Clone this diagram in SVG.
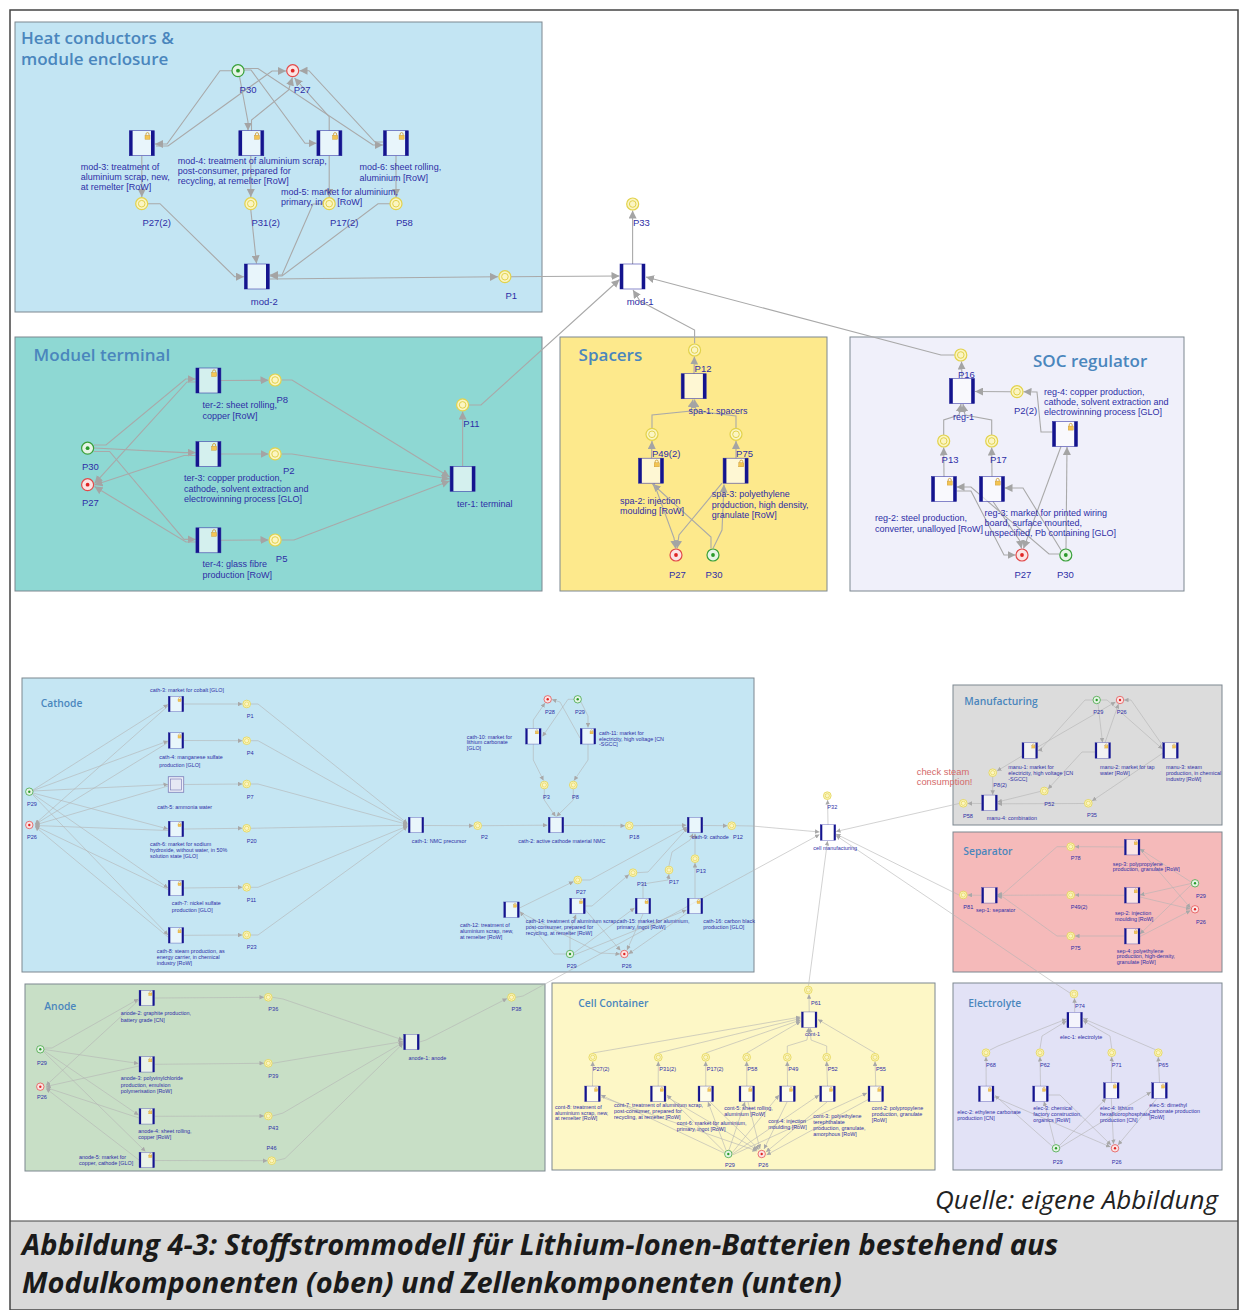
<svg xmlns="http://www.w3.org/2000/svg" width="1240" height="1310" viewBox="0 0 1240 1310">
<style>
.sec{stroke:#7d8790;stroke-width:1}
.c{fill:none;stroke:#a9a9a9;stroke-width:1.1;marker-end:url(#ah)}
.d{fill:none;stroke:#b4b4b4;stroke-width:.6;marker-end:url(#as)}
.t{font-family:"Open Sans","Liberation Sans",sans-serif;font-weight:600;font-size:17px;fill:#4a86bd}
.tb{font-family:"Open Sans","Liberation Sans",sans-serif;font-weight:600;font-size:10.3px;fill:#4a86bd}
.l{font-family:"Liberation Sans",Arial,sans-serif;font-size:9px;fill:#2e2ea6}
.p{font-family:"Liberation Sans",Arial,sans-serif;font-size:9.5px;fill:#2e2ea6}
.s{font-family:"Liberation Sans",Arial,sans-serif;font-size:5.4px;fill:#2e2ea6}
.sp{font-family:"Liberation Sans",Arial,sans-serif;font-size:5.6px;fill:#2e2ea6}
.warn{font-family:"Liberation Sans",Arial,sans-serif;font-size:9.4px;fill:#d46a6a}
.cap{font-family:"Open Sans","Liberation Sans",sans-serif;font-weight:700;font-style:italic;font-size:29px;fill:#1a1a1a}
.src{font-family:"Open Sans","Liberation Sans",sans-serif;font-style:italic;font-size:26px;fill:#222}
</style>
<defs>
<marker id="ah" viewBox="0 0 10 10" refX="10" refY="5" markerWidth="8" markerHeight="8" markerUnits="userSpaceOnUse" orient="auto"><path d="M0,0 L10,5 L0,10 z" fill="#a4a4a4"/></marker>
<marker id="as" viewBox="0 0 10 10" refX="10" refY="5" markerWidth="4.5" markerHeight="4.5" markerUnits="userSpaceOnUse" orient="auto"><path d="M0,0 L10,5 L0,10 z" fill="#a8a8a8"/></marker>
<!-- process box -->
<g id="bx">
<rect x="-12.5" y="-12.5" width="25" height="25" fill="#ffffff" fill-opacity=".62" stroke="#3a3aa8" stroke-width=".6"/>
<rect x="-12.5" y="-12.5" width="3.3" height="25" fill="#14148e"/>
<rect x="9.2" y="-12.5" width="3.3" height="25" fill="#14148e"/>
</g>
<!-- process box with lock -->
<g id="bxl">
<use href="#bx"/>
<g transform="translate(3.2,-10.5)">
<path d="M1,2.6 v-1.2 a1.5,1.5 0 0 1 3,0 v1.2" fill="none" stroke="#c9962a" stroke-width=".8"/>
<rect x="0" y="2.6" width="5" height="4" fill="#f3c453" stroke="#c9962a" stroke-width=".4"/>
</g>
</g>
<!-- place -->
<g id="pl"><circle r="6" fill="#fbf5c2" stroke="#e2d24c" stroke-width="1.2"/><circle r="3.3" fill="none" stroke="#e2d24c" stroke-width="1"/></g>
<g id="so"><circle r="6" fill="#e6f4e6" stroke="#3aa03a" stroke-width="1.2"/><circle r="1.9" fill="#2a9a2a"/></g>
<g id="si"><circle r="6" fill="#fbe4e4" stroke="#e24a4a" stroke-width="1.2"/><circle r="1.9" fill="#e02525"/></g>
<g id="sbx" transform="scale(.62)"><use href="#bx"/></g>
<g id="sbxl" transform="scale(.62)"><use href="#bxl"/></g>
<g id="spl" transform="scale(.64)"><use href="#pl"/></g>
<g id="sso" transform="scale(.62)"><use href="#so"/></g>
<g id="ssi" transform="scale(.62)"><use href="#si"/></g>
<g id="sbxd">
<rect x="-7.75" y="-7.75" width="15.5" height="15.5" fill="#eceef8" stroke="#6e6eb0" stroke-width=".7"/>
<rect x="-5.5" y="-5.5" width="11" height="11" fill="#e6e8f4" stroke="#6e6eb0" stroke-width=".6"/>
</g>
</defs>

<rect width="1240" height="1310" fill="#ffffff"/>

<!-- section backgrounds -->
<g id="sections">
<rect class="sec" x="15" y="22" width="527" height="290" fill="#c3e5f3"/>
<rect class="sec" x="15" y="337" width="527" height="254" fill="#8ed8d3"/>
<rect class="sec" x="560" y="337" width="267" height="254" fill="#fde98c"/>
<rect class="sec" x="850" y="337" width="334" height="254" fill="#f0f0fa"/>
<rect class="sec" x="22" y="678" width="732" height="294" fill="#c5e6f3"/>
<rect class="sec" x="953" y="685" width="269" height="140" fill="#dcdcdc"/>
<rect class="sec" x="953" y="832" width="269" height="140" fill="#f5baba"/>
<rect class="sec" x="25" y="984" width="520" height="187" fill="#c8dfc6"/>
<rect class="sec" x="552" y="983" width="383" height="187" fill="#fdf7c6"/>
<rect class="sec" x="953" y="983" width="269" height="187" fill="#e2e2f6"/>
<text class="t" x="21" y="44">Heat conductors &amp;</text>
<text class="t" x="21" y="65">module enclosure</text>
<text class="t" x="33.6" y="361">Moduel terminal</text>
<text class="t" x="578.6" y="361">Spacers</text>
<text class="t" x="1033" y="367">SOC regulator</text>
<text class="tb" x="40.7" y="707">Cathode</text>
<text class="tb" x="964.3" y="704.5">Manufacturing</text>
<text class="tb" x="963.3" y="854.5">Separator</text>
<text class="tb" x="44.3" y="1009.5">Anode</text>
<text class="tb" x="578.3" y="1007">Cell Container</text>
<text class="tb" x="968.3" y="1007">Electrolyte</text>
</g>

<!-- connectors -->
<g id="connectors">
<!-- heat conductors & module enclosure -->
<path class="c" d="M232,70.7 L220,70.7 L167,144 L155,144"/>
<path class="c" d="M156,146 L168,146 L272,71 L286,71"/>
<path class="c" d="M239.5,76.5 L248,122 L248,130.5"/>
<path class="c" d="M251.5,130.7 L251.5,120 L288.6,90 L292.4,77.5"/>
<path class="c" d="M244,70 L251,70 L305,143.3 L316.5,143.3"/>
<path class="c" d="M329.2,130.7 L329.2,116.7 L294.5,78"/>
<path class="c" d="M244,68.5 L258,68.5 L373,145 L383,145"/>
<path class="c" d="M383,142 L375,142 L309,70.7 L299.5,70.7"/>
<path class="c" d="M141.8,155.7 L141.8,197"/>
<path class="c" d="M250.8,155.7 L250.8,197"/>
<path class="c" d="M329.2,155.7 L329.2,197"/>
<path class="c" d="M396,155.7 L396,197"/>
<path class="c" d="M148,203.7 L160,203.7 L234.6,276.7 L244,276.7"/>
<path class="c" d="M250.8,210 L256.5,263.5"/>
<path class="c" d="M323,204 L313,204 L282,275 L270,275"/>
<path class="c" d="M390,203.7 L378,203.7 L282,276 L270,276"/>
<path class="c" d="M269.3,279 L498,276.8"/>
<path class="c" d="M511,276.7 L540,276.5 L619.5,276"/>
<path class="c" d="M469,405 L481,405 L619.5,279.5"/>
<path class="c" d="M632.6,264 L632.6,210.5"/>
<path class="c" d="M694.6,343.5 L694.6,330 L640,301 L633,290"/>
<path class="c" d="M954.5,355 L941,355 L646,277"/>
<!-- module terminal -->
<path class="c" d="M94,445 L106,445 L185.6,379 L195.7,379"/>
<path class="c" d="M94,448 L184,452.6 L195.7,452.6"/>
<path class="c" d="M94,451.5 L109.6,451.5 L184,539.4 L195.7,539.4"/>
<path class="c" d="M195.7,382 L187,382 L94.5,483.6"/>
<path class="c" d="M195.7,455.5 L184,455.5 L94.5,485"/>
<path class="c" d="M195.7,542 L186,542 L94.5,486.5"/>
<path class="c" d="M220.9,380.5 L268.5,380.3"/>
<path class="c" d="M220.9,454 L268.5,454"/>
<path class="c" d="M220.9,540.2 L268.5,540"/>
<path class="c" d="M281.5,380 L292,380 L449.6,477"/>
<path class="c" d="M281.5,454 L292,454 L449.6,479"/>
<path class="c" d="M281.5,540 L294,540 L449.6,481"/>
<path class="c" d="M462.6,466.3 L462.6,411.5"/>
<!-- spacers -->
<path class="c" d="M694,373.7 L694.4,356.5"/>
<path class="c" d="M652,428 L652,415 L691,411 L693,399.5"/>
<path class="c" d="M736,428 L736,416 L696,411 L694.5,399.5"/>
<path class="c" d="M651.5,458.2 L652,441"/>
<path class="c" d="M736,458.2 L736,441"/>
<path class="c" d="M711,548.5 L711,537 L652.5,484"/>
<path class="c" d="M654,483.2 L674,538 L675.5,548.5"/>
<path class="c" d="M713,548.5 L722,530 L724,484.5"/>
<path class="c" d="M722,483.2 L679,535 L677,548.5"/>
<!-- SOC regulator -->
<path class="c" d="M962,378.5 L961.5,361.5"/>
<path class="c" d="M1011,391.7 L975,391.5"/>
<path class="c" d="M1052.5,432 L1041,432 L1037,392 L1023.5,391.7"/>
<path class="c" d="M943.7,435 L943.7,420 L959,415 L961,404"/>
<path class="c" d="M991.7,435 L991.7,420 L965,415 L963,404"/>
<path class="c" d="M944,476.5 L943.7,447.5"/>
<path class="c" d="M992,476.5 L991.7,447.5"/>
<path class="c" d="M1059.5,554 L1049,554 L971,487 L956.5,487"/>
<path class="c" d="M956.5,491 L971,491 L1004,555 L1015.5,555"/>
<path class="c" d="M1061,550 L1023,488 L1004.5,488"/>
<path class="c" d="M993,501.5 L1020,541 L1021.5,548.5"/>
<path class="c" d="M1066,549 L1067,447"/>
<path class="c" d="M1061,446.5 L1023.5,548.5"/>

<!-- cathode -->
<path class="d" d="M33,790 L168,704.5"/>
<path class="d" d="M33,790.5 L168,741"/>
<path class="d" d="M33,791 L168,784.5"/>
<path class="d" d="M33,793 L168,829"/>
<path class="d" d="M33,794 L168,888"/>
<path class="d" d="M33,795 L168,935"/>
<path class="d" d="M168,706 L35,824"/>
<path class="d" d="M168,742.5 L35,824.5"/>
<path class="d" d="M168,786 L35,825"/>
<path class="d" d="M168,830.5 L35,825.5"/>
<path class="d" d="M168,889.5 L35,826"/>
<path class="d" d="M168,937 L35,826.5"/>
<path class="d" d="M184,704 L242.5,704"/>
<path class="d" d="M184,740.5 L242.5,740.7"/>
<path class="d" d="M184,784.5 L242.5,784"/>
<path class="d" d="M184,829 L242.5,828.3"/>
<path class="d" d="M184,888 L242.5,887.3"/>
<path class="d" d="M184,935.3 L242.5,935"/>
<path class="d" d="M251,704 L258,704 L407.5,823.5"/>
<path class="d" d="M251,740.7 L258,740.7 L407.5,824"/>
<path class="d" d="M251,784 L258,784 L407.5,824.5"/>
<path class="d" d="M251,828.3 L407.5,825.2"/>
<path class="d" d="M251,887.3 L258,887.3 L407.5,826"/>
<path class="d" d="M251,935 L258,935 L407.5,826.5"/>
<path class="d" d="M424,825.5 L473.5,825.7"/>
<path class="d" d="M482,825.7 L547.5,825.2"/>
<path class="d" d="M564,825.5 L625,825.7"/>
<path class="d" d="M633.5,825.7 L686.5,825.2"/>
<path class="d" d="M703,825.5 L727.5,825.7"/>
<path class="d" d="M736,825.7 L752,826 L819.5,832"/>
<path class="d" d="M533.3,728.3 L533.3,720 L545,703"/>
<path class="d" d="M574,699.3 L568,699.3 L542.5,736.5"/>
<path class="d" d="M580,738 L560,702 L552,699.5"/>
<path class="d" d="M581,702 L588,716 L588,727.5"/>
<path class="d" d="M533.3,744.3 L533.3,760 L543.5,780.5"/>
<path class="d" d="M588,744.3 L588,760 L574,780.5"/>
<path class="d" d="M544.3,789 L544.3,800 L555.5,816.5"/>
<path class="d" d="M573.3,789 L573.3,800 L556.5,816.5"/>
<path class="d" d="M519.5,908 L573.5,881.5"/>
<path class="d" d="M582,880 L590,880 L687,827"/>
<path class="d" d="M585.5,906 L592,906 L629,874.5"/>
<path class="d" d="M637,872.7 L648,872 L687.5,828"/>
<path class="d" d="M643,898 L643,884 L668,880 L669,874.3"/>
<path class="d" d="M669,865.7 L672,852 L690,840 L693,833.5"/>
<path class="d" d="M695,898 L695,863"/>
<path class="d" d="M695,854.5 L695,833.5"/>
<path class="d" d="M566,954 L554,954 L520,911.5"/>
<path class="d" d="M570,950 L570,930 L576,914.5"/>
<path class="d" d="M574,953 L634.5,908"/>
<path class="d" d="M574,955 L686.5,910"/>
<path class="d" d="M519.5,912 L600,953 L620,954"/>
<path class="d" d="M585.5,910 L620.5,950.5"/>
<path class="d" d="M643,914 L627,950"/>
<path class="d" d="M687,913 L628.5,954"/>
<!-- cell manufacturing -->
<path class="d" d="M828,824.7 L827.6,800"/>
<!-- manufacturing -->
<path class="d" d="M1092.7,700 L1085,700 L1040,750 L1037.8,750.5"/>
<path class="d" d="M1037.8,747 L1115.5,702"/>
<path class="d" d="M1098,704 L1102.5,742.5"/>
<path class="d" d="M1105,742.7 L1118.5,704"/>
<path class="d" d="M1100.7,700 L1107,700 L1162.5,749"/>
<path class="d" d="M1163,746 L1131,700 L1124,700"/>
<path class="d" d="M1022,756 L997,771"/>
<path class="d" d="M992.7,776.7 L992.7,794.8"/>
<path class="d" d="M1095,752 L1082,752 L1048,789"/>
<path class="d" d="M1040,791.5 L997.5,802"/>
<path class="d" d="M1163,753 L1092,801"/>
<path class="d" d="M1084,803.5 L997.5,803.8"/>
<path class="d" d="M981.7,803.5 L967.5,803.4"/>
<path class="d" d="M959,803.5 L836,831.5"/>
<!-- separator -->
<path class="d" d="M1191,882 L1140,849"/>
<path class="d" d="M1191,883.5 L1140,895"/>
<path class="d" d="M1191,885 L1140,934"/>
<path class="d" d="M1140,849.5 L1190.5,908"/>
<path class="d" d="M1140,897 L1190.5,909"/>
<path class="d" d="M1140,936.5 L1190.5,910.5"/>
<path class="d" d="M1124.4,847 L1075,846.7"/>
<path class="d" d="M1124.4,895.3 L1075,895"/>
<path class="d" d="M1124.4,936 L1075,936"/>
<path class="d" d="M1066.5,846.7 L1057,846.7 L1003,894 L997.3,894.5"/>
<path class="d" d="M1066.5,895 L997.3,895.3"/>
<path class="d" d="M1066.5,936 L1057,936 L1003,897 L997.3,896.5"/>
<path class="d" d="M981.7,895.3 L967.5,895.1"/>
<path class="d" d="M959,895 L836,834"/>
<path class="d" d="M1070,993 L1050,980 L836,835.5"/>
<!-- anode -->
<path class="d" d="M44.5,1048 L52,1048 L138.5,999"/>
<path class="d" d="M44.5,1049.5 L138.5,1063.5"/>
<path class="d" d="M44.5,1051 L138.5,1115"/>
<path class="d" d="M44,1052 L145.5,1151.5"/>
<path class="d" d="M139,1000 L46,1085.5"/>
<path class="d" d="M139,1066 L46,1086.5"/>
<path class="d" d="M139,1118 L46,1087.5"/>
<path class="d" d="M139,1160 L46,1088.5"/>
<path class="d" d="M155,998 L264,997.3"/>
<path class="d" d="M155,1064.3 L264,1063.3"/>
<path class="d" d="M155,1116.3 L264,1116"/>
<path class="d" d="M155,1160.5 L267.5,1160.7"/>
<path class="d" d="M272.5,997.3 L283,999 L403,1040"/>
<path class="d" d="M272.5,1063.3 L403,1041.5"/>
<path class="d" d="M272.5,1116 L283,1113 L403,1042.5"/>
<path class="d" d="M276,1160.7 L285,1158.5 L403,1043.5"/>
<path class="d" d="M419.5,1042 L426,1040 L507,998.5"/>
<path class="d" d="M515.8,997.3 L523,996 L819.5,834.5"/>
<!-- cell container -->
<path class="d" d="M592.5,1086 L592.7,1061.5"/>
<path class="d" d="M658.2,1086 L658.3,1061.5"/>
<path class="d" d="M705.8,1086 L705.7,1061.5"/>
<path class="d" d="M746.8,1086 L746.7,1061.5"/>
<path class="d" d="M787.5,1086 L787.3,1061.5"/>
<path class="d" d="M827.5,1086 L826.7,1061.5"/>
<path class="d" d="M875.8,1086 L875,1061.5"/>
<path class="d" d="M592.7,1053 L800.5,1017"/>
<path class="d" d="M658.3,1053 L800.5,1018.5"/>
<path class="d" d="M705.7,1053 L800.5,1020"/>
<path class="d" d="M746.7,1053 L800.5,1021.5"/>
<path class="d" d="M787.3,1053 L787.3,1046 L807,1040 L808.5,1028"/>
<path class="d" d="M826.7,1053 L826.7,1046 L811,1040 L810,1028"/>
<path class="d" d="M875,1053 L818,1019.5"/>
<path class="d" d="M809.2,1011.9 L809,994.3"/>
<path class="d" d="M808.5,985.7 L827.5,841"/>
<path class="d" d="M724,1153 L601,1095"/>
<path class="d" d="M724.5,1152 L667,1095"/>
<path class="d" d="M726,1150 L708,1102"/>
<path class="d" d="M729,1150 L745,1102"/>
<path class="d" d="M732,1153 L779,1095"/>
<path class="d" d="M732.5,1154 L819,1095"/>
<path class="d" d="M732.5,1155 L867,1093"/>
<path class="d" d="M601,1097 L757,1151"/>
<path class="d" d="M667,1097 L757.5,1150"/>
<path class="d" d="M710,1102 L759,1149.5"/>
<path class="d" d="M748,1102 L760,1149"/>
<path class="d" d="M787,1102 L764,1149"/>
<path class="d" d="M827,1102 L766,1152"/>
<path class="d" d="M869,1099 L766.5,1155"/>
<!-- electrolyte -->
<path class="d" d="M986.2,1086 L986,1057"/>
<path class="d" d="M1040.5,1086 L1040,1057"/>
<path class="d" d="M1111.3,1082.7 L1111.7,1057"/>
<path class="d" d="M1159.5,1082.7 L1158.3,1057"/>
<path class="d" d="M990,1050 L998,1046 L1066.5,1019"/>
<path class="d" d="M1040,1048.5 L1042,1036 L1066.5,1021"/>
<path class="d" d="M1111.7,1048.5 L1110,1036 L1083,1020.5"/>
<path class="d" d="M1155,1049.5 L1083,1018.5"/>
<path class="d" d="M1074.7,1012.2 L1074.5,998.3"/>
<path class="d" d="M1052.5,1146.5 L995,1095.5"/>
<path class="d" d="M1055,1144.5 L1044,1101.5"/>
<path class="d" d="M1059,1146 L1106,1098.5"/>
<path class="d" d="M1060,1147.5 L1151,1092"/>
<path class="d" d="M994,1097 L1110.5,1147"/>
<path class="d" d="M1048.5,1095 L1060,1095 L1111,1145"/>
<path class="d" d="M1111.3,1098.3 L1113.5,1144"/>
<path class="d" d="M1157,1098.3 L1118,1145"/>
</g>

<!-- ===== module nodes ===== -->
<g id="P30-heat"><use href="#so" x="238" y="70.7"/><text class="p" x="239.6" y="92.5">P30</text></g>
<g id="P27-heat"><use href="#si" x="292.7" y="70.7"/><text class="p" x="293.7" y="92.5">P27</text></g>
<g id="mod-3"><use href="#bxl" x="141.8" y="143.2"/><text class="l" x="80.8" y="170"><tspan x="80.8">mod-3: treatment of</tspan><tspan x="80.8" dy="10.3">aluminium scrap, new,</tspan><tspan x="80.8" dy="10">at remelter [RoW]</tspan></text></g>
<g id="mod-4"><use href="#bxl" x="251.3" y="143.2"/><text class="l" x="177.8" y="164"><tspan x="177.8">mod-4: treatment of aluminium scrap,</tspan><tspan x="177.8" dy="10.4">post-consumer, prepared for</tspan><tspan x="177.8" dy="10">recycling, at remelter [RoW]</tspan></text></g>
<g id="mod-5"><use href="#bxl" x="329.4" y="143.2"/><text class="l" x="280.9" y="194.5"><tspan x="280.9">mod-5: market for aluminium,</tspan><tspan x="280.9" dy="10.6">primary, ingot [RoW]</tspan></text></g>
<g id="mod-6"><use href="#bxl" x="395.9" y="143.2"/><text class="l" x="359.6" y="170"><tspan x="359.6">mod-6: sheet rolling,</tspan><tspan x="359.6" dy="10.6">aluminium [RoW]</tspan></text></g>
<g id="P27-2-heat"><use href="#pl" x="141.7" y="203.7"/><text class="p" x="142.4" y="226">P27(2)</text></g>
<g id="P31-2-heat"><use href="#pl" x="250.8" y="203.7"/><text class="p" x="251.5" y="226">P31(2)</text></g>
<g id="P17-2-heat"><use href="#pl" x="329.2" y="203.7"/><text class="p" x="329.9" y="226">P17(2)</text></g>
<g id="P58-heat"><use href="#pl" x="396" y="203.7"/><text class="p" x="396" y="226">P58</text></g>
<g id="mod-2"><use href="#bx" x="256.8" y="276.5"/><text class="p" x="250.8" y="305">mod-2</text></g>
<g id="P1-heat"><use href="#pl" x="504.9" y="276.7"/><text class="p" x="505.5" y="299">P1</text></g>
<g id="mod-1"><use href="#bx" x="632.5" y="276.5"/><text class="p" x="626.7" y="305">mod-1</text></g>
<g id="P33"><use href="#pl" x="632.7" y="204"/><text class="p" x="633" y="226">P33</text></g>

<g id="ter-2"><use href="#bxl" x="208.4" y="380.5"/><text class="l" x="202.5" y="408"><tspan x="202.5">ter-2: sheet rolling,</tspan><tspan x="202.5" dy="11">copper [RoW]</tspan></text></g>
<g id="ter-3"><use href="#bxl" x="208.4" y="454.1"/><text class="l" x="184" y="480.6"><tspan x="184">ter-3: copper production,</tspan><tspan x="184" dy="11">cathode, solvent extraction and</tspan><tspan x="184" dy="10.8">electrowinning process [GLO]</tspan></text></g>
<g id="ter-4"><use href="#bxl" x="208.4" y="540.3"/><text class="l" x="202.5" y="567"><tspan x="202.5">ter-4: glass fibre</tspan><tspan x="202.5" dy="11">production [RoW]</tspan></text></g>
<g id="ter-1"><use href="#bx" x="462.6" y="478.8"/><text class="l" x="456.9" y="507">ter-1: terminal</text></g>
<g id="P8-ter"><use href="#pl" x="275.1" y="380"/><text class="p" x="276.5" y="403">P8</text></g>
<g id="P2-ter"><use href="#pl" x="275.1" y="453.9"/><text class="p" x="283" y="474">P2</text></g>
<g id="P5-ter"><use href="#pl" x="275.1" y="540"/><text class="p" x="275.8" y="562">P5</text></g>
<g id="P11-ter"><use href="#pl" x="462.6" y="404.9"/><text class="p" x="463.3" y="427">P11</text></g>
<g id="P30-ter"><use href="#so" x="87.6" y="448.2"/><text class="p" x="81.9" y="470">P30</text></g>
<g id="P27-ter"><use href="#si" x="87.6" y="484.7"/><text class="p" x="81.9" y="506">P27</text></g>

<g id="P12-spa"><use href="#pl" x="694.6" y="350"/><text class="p" x="694.6" y="371.5">P12</text></g>
<g id="spa-1"><use href="#bx" x="693.7" y="386.2"/><text class="l" x="688.5" y="414">spa-1: spacers</text></g>
<g id="P49-2-spa"><use href="#pl" x="652" y="434.3"/><text class="p" x="651.9" y="456.5">P49(2)</text></g>
<g id="P75-spa"><use href="#pl" x="736" y="434.3"/><text class="p" x="736.1" y="456.5">P75</text></g>
<g id="spa-2"><use href="#bxl" x="651" y="470.7"/><text class="l" x="620.1" y="503.7"><tspan x="620.1">spa-2: injection</tspan><tspan x="620.1" dy="10.3">moulding [RoW]</tspan></text></g>
<g id="spa-3"><use href="#bxl" x="735.6" y="470.7"/><text class="l" x="711.7" y="497.3"><tspan x="711.7">spa-3: polyethylene</tspan><tspan x="711.7" dy="10.7">production, high density,</tspan><tspan x="711.7" dy="10">granulate [RoW]</tspan></text></g>
<g id="P27-spa"><use href="#si" x="676" y="555"/><text class="p" x="669" y="577.5">P27</text></g>
<g id="P30-spa"><use href="#so" x="713" y="555"/><text class="p" x="705.6" y="577.5">P30</text></g>

<g id="P16"><use href="#pl" x="960.8" y="355"/><text class="p" x="958" y="377.5">P16</text></g>
<g id="reg-1"><use href="#bx" x="962" y="391"/><text class="l" x="953" y="419.7">reg-1</text></g>
<g id="P2-2-reg"><use href="#pl" x="1017" y="391.7"/><text class="p" x="1014" y="414">P2(2)</text></g>
<g id="reg-4"><use href="#bxl" x="1065" y="434"/><text class="l" x="1044" y="394.7"><tspan x="1044">reg-4: copper production,</tspan><tspan x="1044" dy="10">cathode, solvent extraction and</tspan><tspan x="1044" dy="10">electrowinning process [GLO]</tspan></text></g>
<g id="P13-reg"><use href="#pl" x="943.7" y="441"/><text class="p" x="941.6" y="462.5">P13</text></g>
<g id="P17-reg"><use href="#pl" x="991.7" y="441"/><text class="p" x="990" y="462.5">P17</text></g>
<g id="reg-2"><use href="#bxl" x="944" y="489"/><text class="l" x="875" y="521.3"><tspan x="875">reg-2: steel production,</tspan><tspan x="875" dy="11">converter, unalloyed [RoW]</tspan></text></g>
<g id="reg-3"><use href="#bxl" x="992" y="489"/><text class="l" x="984.5" y="515.7"><tspan x="984.5">reg-3: market for printed wiring</tspan><tspan x="984.5" dy="10">board, surface mounted,</tspan><tspan x="984.5" dy="10">unspecified, Pb containing [GLO]</tspan></text></g>
<g id="P27-reg"><use href="#si" x="1022" y="555"/><text class="p" x="1014.5" y="577.5">P27</text></g>
<g id="P30-reg"><use href="#so" x="1065.8" y="555"/><text class="p" x="1057" y="577.5">P30</text></g>

<!-- ===== cell nodes ===== -->
<g id="P29-cath"><use href="#sso" x="29.3" y="791.7"/><text class="sp" x="27" y="806">P29</text></g>
<g id="P26-cath"><use href="#ssi" x="29.3" y="825"/><text class="sp" x="27" y="839">P26</text></g>
<g id="cath-3"><use href="#sbxl" x="176" y="704"/><text class="s" x="150" y="692">cath-3: market for cobalt [GLO]</text></g>
<g id="cath-4"><use href="#sbxl" x="176" y="740.5"/><text class="s" x="159.3" y="759"><tspan x="159.3">cath-4: manganese sulfate</tspan><tspan x="159.3" dy="8">production [GLO]</tspan></text></g>
<g id="cath-5"><use href="#sbxd" x="176" y="784.5"/><text class="s" x="157.3" y="809">cath-5: ammonia water</text></g>
<g id="cath-6"><use href="#sbxl" x="176" y="829"/><text class="s" x="150" y="845.8"><tspan x="150">cath-6: market for sodium</tspan><tspan x="150" dy="6">hydroxide, without water, in 50%</tspan><tspan x="150" dy="6">solution state [GLO]</tspan></text></g>
<g id="cath-7"><use href="#sbxl" x="176" y="888"/><text class="s" x="171.7" y="904.5"><tspan x="171.7">cath-7: nickel sulfate</tspan><tspan x="171.7" dy="7.3">production [GLO]</tspan></text></g>
<g id="cath-8"><use href="#sbxl" x="176" y="935.3"/><text class="s" x="156.7" y="952.5"><tspan x="156.7">cath-8: steam production, as</tspan><tspan x="156.7" dy="6.2">energy carrier, in chemical</tspan><tspan x="156.7" dy="6.3">industry [RoW]</tspan></text></g>
<g id="P1-cath"><use href="#spl" x="246.7" y="704"/><text class="sp" x="246.7" y="718">P1</text></g>
<g id="P4-cath"><use href="#spl" x="246.7" y="740.7"/><text class="sp" x="246.7" y="754.5">P4</text></g>
<g id="P7-cath"><use href="#spl" x="246.7" y="784"/><text class="sp" x="246.7" y="798.5">P7</text></g>
<g id="P20-cath"><use href="#spl" x="246.7" y="828.3"/><text class="sp" x="246.7" y="842.5">P20</text></g>
<g id="P11-cath"><use href="#spl" x="246.7" y="887.3"/><text class="sp" x="246.7" y="901.8">P11</text></g>
<g id="P23-cath"><use href="#spl" x="246.7" y="935"/><text class="sp" x="246.7" y="949">P23</text></g>
<g id="cath-1"><use href="#sbx" x="416" y="825"/><text class="s" x="411.7" y="842.5">cath-1: NMC precursor</text></g>
<g id="P2-cath"><use href="#spl" x="477.7" y="825.7"/><text class="sp" x="481" y="838.5">P2</text></g>
<g id="cath-2"><use href="#sbx" x="556" y="825"/><text class="s" x="518.3" y="842.5">cath-2: active cathode material NMC</text></g>
<g id="P18-cath"><use href="#spl" x="629.3" y="825.7"/><text class="sp" x="629.3" y="838.5">P18</text></g>
<g id="cath-9"><use href="#sbx" x="695" y="825"/><text class="s" x="691.7" y="838.5">cath-9: cathode</text></g>
<g id="P12-cath"><use href="#spl" x="731.7" y="825.7"/><text class="sp" x="733" y="838.5">P12</text></g>
<g id="P28-cath"><use href="#ssi" x="547.7" y="699.3"/><text class="sp" x="545" y="713.5">P28</text></g>
<g id="P29-cath-top"><use href="#sso" x="577.7" y="699.3"/><text class="sp" x="575" y="713.5">P29</text></g>
<g id="cath-10"><use href="#sbxl" x="533.3" y="736.3"/><text class="s" x="466.7" y="738.5"><tspan x="466.7">cath-10: market for</tspan><tspan x="466.7" dy="5.7">lithium carbonate</tspan><tspan x="466.7" dy="5.8">[GLO]</tspan></text></g>
<g id="cath-11"><use href="#sbxl" x="588" y="736.3"/><text class="s" x="599" y="735"><tspan x="599">cath-11: market for</tspan><tspan x="599" dy="5.6">electricity, high voltage [CN</tspan><tspan x="599" dy="5.6">-SGCC]</tspan></text></g>
<g id="P3-cath"><use href="#spl" x="544.3" y="785"/><text class="sp" x="543" y="798.5">P3</text></g>
<g id="P8-cath"><use href="#spl" x="573.3" y="785"/><text class="sp" x="572" y="798.5">P8</text></g>
<g id="P27-cath"><use href="#spl" x="577.7" y="880"/><text class="sp" x="576" y="893.5">P27</text></g>
<g id="P31-cath"><use href="#spl" x="633" y="872.7"/><text class="sp" x="637" y="886">P31</text></g>
<g id="P17-cath"><use href="#spl" x="669" y="870"/><text class="sp" x="669" y="883.5">P17</text></g>
<g id="P13-cath"><use href="#spl" x="695" y="858.7"/><text class="sp" x="696" y="872.5">P13</text></g>
<g id="cath-12"><use href="#sbxl" x="511.5" y="909.7"/><text class="s" x="460" y="926.8"><tspan x="460">cath-12: treatment of</tspan><tspan x="460" dy="5.8">aluminium scrap, new,</tspan><tspan x="460" dy="5.9">at remelter [RoW]</tspan></text></g>
<g id="cath-14"><use href="#sbxl" x="577.5" y="906"/><text class="s" x="525.7" y="922.5"><tspan x="525.7">cath-14: treatment of aluminium scrap,</tspan><tspan x="525.7" dy="6">post-consumer, prepared for</tspan><tspan x="525.7" dy="6">recycling, at remelter [RoW]</tspan></text></g>
<g id="cath-15"><use href="#sbxl" x="643" y="906"/><text class="s" x="616.7" y="922.5"><tspan x="616.7">cath-15: market for aluminium,</tspan><tspan x="616.7" dy="6">primary, ingot [RoW]</tspan></text></g>
<g id="cath-16"><use href="#sbxl" x="695" y="906"/><text class="s" x="703.3" y="922.5"><tspan x="703.3">cath-16: carbon black</tspan><tspan x="703.3" dy="6">production [GLO]</tspan></text></g>
<g id="P29-cath-bottom"><use href="#sso" x="570" y="954"/><text class="sp" x="566.7" y="968">P29</text></g>
<g id="P26-cath-bottom"><use href="#ssi" x="624.3" y="954"/><text class="sp" x="621.7" y="968">P26</text></g>

<g id="cell-manufacturing"><use href="#sbx" x="828" y="832.5"/><text class="s" x="813.3" y="850">cell manufacturing</text></g>
<g id="P32"><use href="#spl" x="827.3" y="795.7"/><text class="sp" x="827.3" y="808.5">P32</text></g>

<g id="P29-manu"><use href="#sso" x="1096.7" y="700"/><text class="sp" x="1093.3" y="714">P29</text></g>
<g id="P26-manu"><use href="#ssi" x="1120" y="700"/><text class="sp" x="1116.7" y="714">P26</text></g>
<g id="manu-1"><use href="#sbxl" x="1029.8" y="750.5"/><text class="s" x="1008.3" y="769"><tspan x="1008.3">manu-1: market for</tspan><tspan x="1008.3" dy="6">electricity, high voltage [CN</tspan><tspan x="1008.3" dy="6">-SGCC]</tspan></text></g>
<g id="manu-2"><use href="#sbxl" x="1102.8" y="750.5"/><text class="s" x="1100" y="769"><tspan x="1100">manu-2: market for tap</tspan><tspan x="1100" dy="6">water [RoW]</tspan></text></g>
<g id="manu-3"><use href="#sbxl" x="1170.5" y="750.5"/><text class="s" x="1166" y="769"><tspan x="1166">manu-3: steam</tspan><tspan x="1166" dy="6">production, in chemical</tspan><tspan x="1166" dy="6">industry [RoW]</tspan></text></g>
<g id="P8-2-manu"><use href="#spl" x="992.7" y="772.7"/><text class="sp" x="993.3" y="787">P8(2)</text></g>
<g id="manu-4"><use href="#sbx" x="989.5" y="802.8"/><text class="s" x="986.7" y="820">manu-4: combination</text></g>
<g id="P52-manu"><use href="#spl" x="1044.3" y="791"/><text class="sp" x="1044.3" y="806">P52</text></g>
<g id="P35-manu"><use href="#spl" x="1088.3" y="803.3"/><text class="sp" x="1087" y="817">P35</text></g>
<g id="P58-manu"><use href="#spl" x="963.3" y="803.3"/><text class="sp" x="963" y="818">P58</text></g>
<g id="note"><text class="warn" x="916.7" y="775"><tspan x="916.7">check steam</tspan><tspan x="916.7" dy="10">consumption!</tspan></text></g>

<g id="sep-3"><use href="#sbxl" x="1132.2" y="847.2"/><text class="s" x="1112.7" y="865.8"><tspan x="1112.7">sep-3: polypropylene</tspan><tspan x="1112.7" dy="5.4">production, granulate [RoW]</tspan></text></g>
<g id="sep-2"><use href="#sbxl" x="1132.2" y="895.3"/><text class="s" x="1115" y="914.5"><tspan x="1115">sep-2: injection</tspan><tspan x="1115" dy="6.5">moulding [RoW]</tspan></text></g>
<g id="sep-4"><use href="#sbxl" x="1132.2" y="936.2"/><text class="s" x="1116.7" y="952.5"><tspan x="1116.7">sep-4: polyethylene</tspan><tspan x="1116.7" dy="5.6">production, high-density,</tspan><tspan x="1116.7" dy="6">granulate [RoW]</tspan></text></g>
<g id="sep-1"><use href="#sbx" x="989.5" y="895.3"/><text class="s" x="976" y="912">sep-1: separator</text></g>
<g id="P78-sep"><use href="#spl" x="1070.7" y="846.7"/><text class="sp" x="1070.7" y="860">P78</text></g>
<g id="P49-2-sep"><use href="#spl" x="1070.7" y="895"/><text class="sp" x="1070.7" y="909">P49(2)</text></g>
<g id="P75-sep"><use href="#spl" x="1070.7" y="936"/><text class="sp" x="1070.7" y="950">P75</text></g>
<g id="P81"><use href="#spl" x="963.3" y="895"/><text class="sp" x="963.3" y="909">P81</text></g>
<g id="P29-sep"><use href="#sso" x="1195" y="883.3"/><text class="sp" x="1196" y="898">P29</text></g>
<g id="P26-sep"><use href="#ssi" x="1195" y="909.3"/><text class="sp" x="1196" y="923.5">P26</text></g>

<g id="P29-anode"><use href="#sso" x="40.3" y="1049.3"/><text class="sp" x="37" y="1064.5">P29</text></g>
<g id="P26-anode"><use href="#ssi" x="40.3" y="1086.7"/><text class="sp" x="37" y="1099">P26</text></g>
<g id="anode-2"><use href="#sbxl" x="146.8" y="998"/><text class="s" x="120.7" y="1015"><tspan x="120.7">anode-2: graphite production,</tspan><tspan x="120.7" dy="6.8">battery grade [CN]</tspan></text></g>
<g id="anode-3"><use href="#sbxl" x="146.8" y="1064.3"/><text class="s" x="120.7" y="1080"><tspan x="120.7">anode-3: polyvinylchloride</tspan><tspan x="120.7" dy="6.7">production, emulsion</tspan><tspan x="120.7" dy="6.7">polymerisation [RoW]</tspan></text></g>
<g id="anode-4"><use href="#sbxl" x="146.8" y="1116.3"/><text class="s" x="138.2" y="1132.5"><tspan x="138.2">anode-4: sheet rolling,</tspan><tspan x="138.2" dy="6.6">copper [RoW]</tspan></text></g>
<g id="anode-5"><use href="#sbxl" x="146.8" y="1160"/><text class="s" x="79" y="1158.5"><tspan x="79">anode-5: market for</tspan><tspan x="79" dy="6">copper, cathode [GLO]</tspan></text></g>
<g id="P36-anode"><use href="#spl" x="268.3" y="997.3"/><text class="sp" x="268.3" y="1011">P36</text></g>
<g id="P39-anode"><use href="#spl" x="268.3" y="1063.3"/><text class="sp" x="268.3" y="1078">P39</text></g>
<g id="P43-anode"><use href="#spl" x="268.3" y="1116"/><text class="sp" x="268.3" y="1130">P43</text></g>
<g id="P46-anode"><use href="#spl" x="271.7" y="1160.7"/><text class="sp" x="266.6" y="1150">P46</text></g>
<g id="anode-1"><use href="#sbx" x="411.4" y="1042"/><text class="s" x="408.5" y="1059.5">anode-1: anode</text></g>
<g id="P38-anode"><use href="#spl" x="511.5" y="997.3"/><text class="sp" x="511.5" y="1011">P38</text></g>

<g id="P61"><use href="#spl" x="808.3" y="990"/><text class="sp" x="811" y="1004.5">P61</text></g>
<g id="cont-1"><use href="#sbx" x="809.2" y="1019.7"/><text class="s" x="805" y="1036">cont-1</text></g>
<g id="P27-2-cont"><use href="#spl" x="592.7" y="1057.3"/><text class="sp" x="592.7" y="1071">P27(2)</text></g>
<g id="P31-2-cont"><use href="#spl" x="658.3" y="1057.3"/><text class="sp" x="659.3" y="1071">P31(2)</text></g>
<g id="P17-2-cont"><use href="#spl" x="705.7" y="1057.3"/><text class="sp" x="706.7" y="1071">P17(2)</text></g>
<g id="P58-cont"><use href="#spl" x="746.7" y="1057.3"/><text class="sp" x="747.3" y="1071">P58</text></g>
<g id="P49-cont"><use href="#spl" x="787.3" y="1057.3"/><text class="sp" x="788.3" y="1071">P49</text></g>
<g id="P52-cont"><use href="#spl" x="826.7" y="1057.3"/><text class="sp" x="827.7" y="1071">P52</text></g>
<g id="P55-cont"><use href="#spl" x="875" y="1057.3"/><text class="sp" x="876" y="1071">P55</text></g>
<g id="cont-8"><use href="#sbxl" x="592.5" y="1093.8"/><text class="s" x="555" y="1108.5"><tspan x="555">cont-8: treatment of</tspan><tspan x="555" dy="6">aluminium scrap, new,</tspan><tspan x="555" dy="5.6">at remelter [RoW]</tspan></text></g>
<g id="cont-7"><use href="#sbxl" x="658.2" y="1093.8"/><text class="s" x="614" y="1107"><tspan x="614">cont-7: treatment of aluminium scrap,</tspan><tspan x="614" dy="5.6">post-consumer, prepared for</tspan><tspan x="614" dy="6">recycling, at remelter [RoW]</tspan></text></g>
<g id="cont-6"><use href="#sbxl" x="705.8" y="1093.8"/><text class="s" x="676.7" y="1125"><tspan x="676.7">cont-6: market for aluminium,</tspan><tspan x="676.7" dy="6">primary, ingot [RoW]</tspan></text></g>
<g id="cont-5"><use href="#sbxl" x="746.8" y="1093.8"/><text class="s" x="724.3" y="1110"><tspan x="724.3">cont-5: sheet rolling,</tspan><tspan x="724.3" dy="6">aluminium [RoW]</tspan></text></g>
<g id="cont-4"><use href="#sbxl" x="787.5" y="1093.8"/><text class="s" x="768.3" y="1122.5"><tspan x="768.3">cont-4: injection</tspan><tspan x="768.3" dy="6">moulding [RoW]</tspan></text></g>
<g id="cont-3"><use href="#sbxl" x="827.5" y="1093.8"/><text class="s" x="813.3" y="1118"><tspan x="813.3">cont-3: polyethylene</tspan><tspan x="813.3" dy="5.6">terephthalate</tspan><tspan x="813.3" dy="6">production, granulate,</tspan><tspan x="813.3" dy="6.4">amorphous [RoW]</tspan></text></g>
<g id="cont-2"><use href="#sbxl" x="875.8" y="1093.8"/><text class="s" x="871.7" y="1110"><tspan x="871.7">cont-2: polypropylene</tspan><tspan x="871.7" dy="6">production, granulate</tspan><tspan x="871.7" dy="6">[RoW]</tspan></text></g>
<g id="P29-cont"><use href="#sso" x="728.3" y="1154"/><text class="sp" x="725" y="1167">P29</text></g>
<g id="P26-cont"><use href="#ssi" x="761.7" y="1154"/><text class="sp" x="758.3" y="1167">P26</text></g>

<g id="P74"><use href="#spl" x="1074" y="994"/><text class="sp" x="1075" y="1008">P74</text></g>
<g id="elec-1"><use href="#sbx" x="1074.7" y="1020"/><text class="s" x="1060" y="1038.5">elec-1: electrolyte</text></g>
<g id="P68"><use href="#spl" x="986" y="1052.7"/><text class="sp" x="986" y="1067">P68</text></g>
<g id="P62"><use href="#spl" x="1040" y="1052.7"/><text class="sp" x="1040" y="1067">P62</text></g>
<g id="P71"><use href="#spl" x="1111.7" y="1052.7"/><text class="sp" x="1111.7" y="1067">P71</text></g>
<g id="P65"><use href="#spl" x="1158.3" y="1052.7"/><text class="sp" x="1158.3" y="1067">P65</text></g>
<g id="elec-2"><use href="#sbxl" x="986.2" y="1093.8"/><text class="s" x="957.3" y="1113.5"><tspan x="957.3">elec-2: ethylene carbonate</tspan><tspan x="957.3" dy="6.5">production [CN]</tspan></text></g>
<g id="elec-3"><use href="#sbxl" x="1040.5" y="1093.8"/><text class="s" x="1033.3" y="1110"><tspan x="1033.3">elec-3: chemical</tspan><tspan x="1033.3" dy="6">factory construction,</tspan><tspan x="1033.3" dy="6">organics [RoW]</tspan></text></g>
<g id="elec-4"><use href="#sbxl" x="1111.3" y="1090.5"/><text class="s" x="1100" y="1110"><tspan x="1100">elec-4: lithium</tspan><tspan x="1100" dy="6">hexafluorophosphate</tspan><tspan x="1100" dy="6">production [CN]</tspan></text></g>
<g id="elec-5"><use href="#sbxl" x="1159.5" y="1090.5"/><text class="s" x="1149.3" y="1107"><tspan x="1149.3">elec-5: dimethyl</tspan><tspan x="1149.3" dy="6">carbonate production</tspan><tspan x="1149.3" dy="5.5">[RoW]</tspan></text></g>
<g id="P29-elec"><use href="#sso" x="1056" y="1148.3"/><text class="sp" x="1052.7" y="1163.5">P29</text></g>
<g id="P26-elec"><use href="#ssi" x="1115" y="1148.3"/><text class="sp" x="1111.7" y="1163.5">P26</text></g>

<!-- frame and caption -->
<g id="frame">
<rect x="10" y="1221" width="1228" height="89" fill="#d9d9d9"/>
<line x1="10" y1="1221" x2="1238" y2="1221" stroke="#444" stroke-width="1.2"/>
<rect x="10" y="10" width="1228" height="1300" fill="none" stroke="#444" stroke-width="1.5"/>
<text class="src" x="935" y="1209">Quelle: eigene Abbildung</text>
<text class="cap" x="22" y="1255">Abbildung 4-3: Stoffstrommodell für Lithium-Ionen-Batterien bestehend aus</text>
<text class="cap" x="22" y="1293">Modulkomponenten (oben) und Zellenkomponenten (unten)</text>
</g>
</svg>
